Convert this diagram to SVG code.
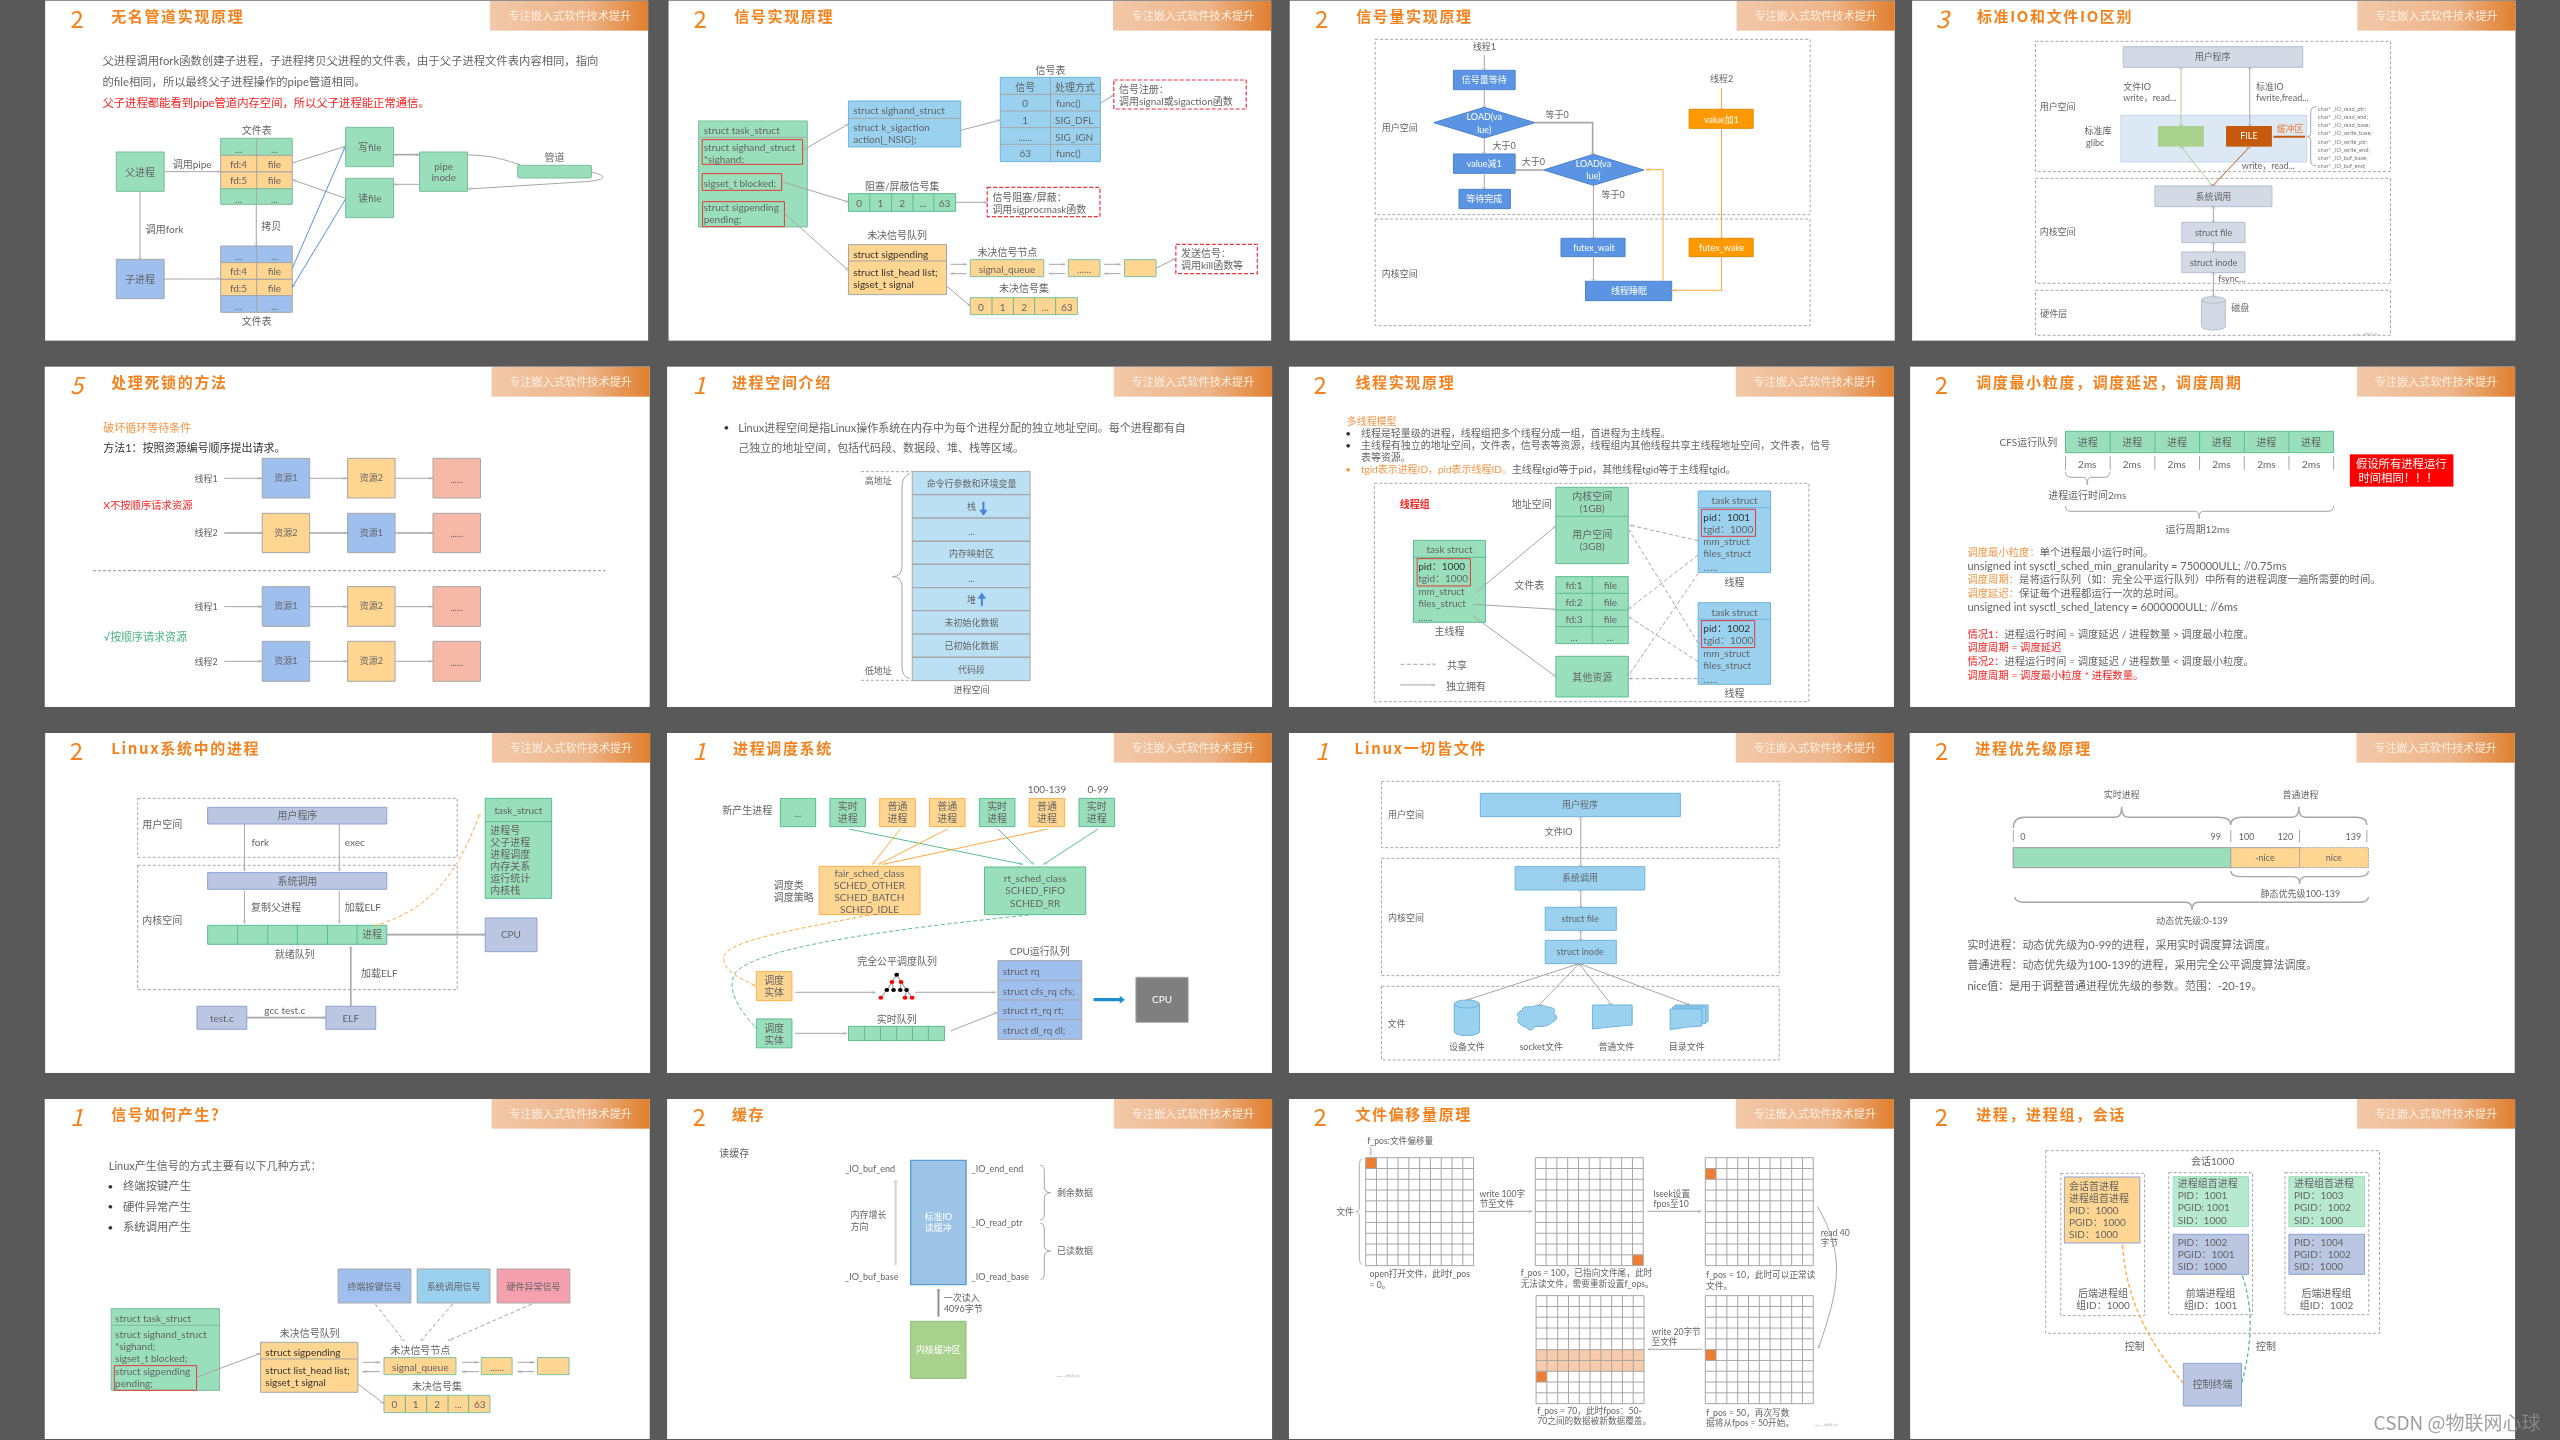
<svg xmlns="http://www.w3.org/2000/svg" width="2560" height="1440" viewBox="0 0 2560 1440">
<style>
text{font:30px Lato,"Noto Sans CJK SC","Noto Sans",sans-serif;fill:#646464;dominant-baseline:central;transform-box:fill-box;transform-origin:0 50%}
.m{text-anchor:middle;transform-origin:50% 50%}
.n text{transform:scale(.843,1)}
.w text{transform:scale(.4215,1)}
rect,path,line,ellipse{vector-effect:non-scaling-stroke}
.pg{fill:#fff}
.hd{fill:url(#hg)}
text.h{font-size:33.5px;fill:#fdeee0;text-anchor:middle;transform-origin:50% 50%;font-family:"Noto Sans CJK SC",sans-serif}
text.t{font-size:45px;font-weight:700;letter-spacing:5px;fill:#F5821F;font-family:"Noto Sans CJK SC",sans-serif}
text.no{font-size:72px;fill:#F5821F;font-family:"Noto Sans CJK SC",sans-serif}
text.i{font-style:italic}
text.f34{font-size:34px}text.f33{font-size:33px}text.f31{font-size:31px}text.f28{font-size:30px}text.f27{font-size:27px}text.f17{font-size:17px;fill:#777}
.sm text{font-size:26px}
text.f8{font-size:8px;fill:#aaa}
text.wh{fill:#fff}text.red{fill:#FF2020}text.org{fill:#F79646}text.grn{fill:#4CB484}text.dk{fill:#333}text.br{fill:#ED7D31}
tspan.org{fill:#F79646}tspan.red{fill:#FF2020}
.fg{fill:#9ADFBC;stroke:#7CBD9C}
.fo{fill:#FFD592;stroke:#A6A6A6}
.fog{fill:#FFD592;stroke:#7CC49C}
.foo{fill:#FFD592;stroke:#FFB04A}
.fgg{fill:#9ADFBC;stroke:#5CBC92}
.fb{fill:#9FBFEE;stroke:#A6A6A6}
.fl{fill:#9AD1EF;stroke:#6FB4DE}
.fs{fill:#BBE0F3;stroke:#A6A6A6}
.fp{fill:#F8B8A8;stroke:#A6A6A6}
.fv{fill:#BAC6E2;stroke:#8FA2D4}
.fy{fill:#D3DAE5;stroke:#B4BFD2}
.fu{fill:#5A94E2;stroke:#4C82CC}
.fa{fill:#FF9900;stroke:#E68A00}
.rb{fill:none;stroke:#E53935}
.rd{fill:none;stroke:#F0303C;stroke-dasharray:4 2;stroke-width:1.2}
.gd{fill:none;stroke:#A6A6A6;stroke-dasharray:3 2}
.s{fill:none;stroke:#A6A6A6}
.grd{fill:none;stroke:#A6A6A6}
.c path{fill:none;stroke:#A6A6A6;marker-end:url(#a)}
.w .c path{marker-end:url(#a2)}
.c path.o{stroke:#FFA940;marker-end:url(#ao)}
.w .c path.o{marker-end:url(#ao2)}
.c path.g{stroke:#5CBC92;marker-end:url(#ag)}
.c path.u{stroke:#5A8FE0;marker-end:url(#au)}
.c path.d{stroke-dasharray:4 2.5}
.c path.bi{marker-start:url(#a2)}
.c path.th{stroke-width:1.6}
</style>
<defs>
<linearGradient id="hg"><stop offset="0" stop-color="#F2C8A8"/><stop offset=".6" stop-color="#EDB58A"/><stop offset="1" stop-color="#E07F2E"/></linearGradient>
<marker id="a" markerUnits="userSpaceOnUse" viewBox="0 0 14 14" markerWidth="14" markerHeight="14" refX="12" refY="7" orient="auto-start-reverse"><path d="M2 2L12 7L2 12" fill="none" stroke="#A6A6A6"/></marker>
<marker id="a2" markerUnits="userSpaceOnUse" viewBox="0 0 14 14" markerWidth="8" markerHeight="8" refX="12" refY="7" orient="auto-start-reverse"><path d="M2 2L12 7L2 12" fill="none" stroke="#A6A6A6"/></marker>
<marker id="ao" markerUnits="userSpaceOnUse" viewBox="0 0 14 14" markerWidth="14" markerHeight="14" refX="12" refY="7" orient="auto"><path d="M2 2L12 7L2 12" fill="none" stroke="#FFA940"/></marker>
<marker id="ao2" markerUnits="userSpaceOnUse" viewBox="0 0 14 14" markerWidth="8" markerHeight="8" refX="12" refY="7" orient="auto"><path d="M2 2L12 7L2 12" fill="none" stroke="#FFA940"/></marker>
<marker id="ag" markerUnits="userSpaceOnUse" viewBox="0 0 14 14" markerWidth="14" markerHeight="14" refX="12" refY="7" orient="auto"><path d="M2 2L12 7L2 12" fill="none" stroke="#5CBC92"/></marker>
<marker id="au" markerUnits="userSpaceOnUse" viewBox="0 0 14 14" markerWidth="14" markerHeight="14" refX="12" refY="7" orient="auto"><path d="M2 2L12 7L2 12" fill="none" stroke="#5A8FE0"/></marker>
<path id="gr" class="grd" d="M0 0H273V324H0ZM27.3 0V324M54.6 0V324M81.9 0V324M109.2 0V324M136.5 0V324M163.8 0V324M191.1 0V324M218.4 0V324M245.7 0V324M0 32.4H273M0 64.8H273M0 97.2H273M0 129.6H273M0 162H273M0 194.4H273M0 226.8H273M0 259.2H273M0 291.6H273"/>
<filter id="soft" filterUnits="userSpaceOnUse" x="0" y="0" width="2560" height="1440"><feGaussianBlur stdDeviation=".4"/></filter>
</defs>
<rect id="bg" width="2560" height="1440" fill="#595959"/>
<g id="all" filter="url(#soft)">

<g id="slide01" class="n" transform="translate(40 0) scale(.3954 .3333)">
<rect class="pg" x="13" y="2" width="1525" height="1020"/>
<rect class="hd" x="1138" y="3" width="400" height="89"/><text class="h" x="1340" y="45">专注嵌入式软件技术提升</text>
<text class="no" x="77" y="52">2</text><text class="t" x="180" y="48">无名管道实现原理</text>
<text class="f34" x="158" y="183">父进程调用fork函数创建子进程，子进程拷贝父进程的文件表，由于父子进程文件表内容相同，指向</text>
<text class="f34" x="158" y="245">的file相同，所以最终父子进程操作的pipe管道相同。</text>
<text class="f34 red" x="158" y="307">父子进程都能看到pipe管道内存空间，所以父子进程能正常通信。</text>
<g id="s1-parent"><rect class="fg" x="193" y="456" width="121" height="118"/><text class="m" x="253" y="515">父进程</text></g>
<g id="s1-child"><rect class="fb" x="193" y="778" width="121" height="118"/><text class="m" x="253" y="837">子进程</text></g>
<g id="s1-table1"><text class="m" x="548" y="390">文件表</text>
<rect class="fg" x="457" y="415" width="181" height="51"/><rect class="fo" x="457" y="466" width="181" height="50"/><rect class="fo" x="457" y="516" width="181" height="50"/><rect class="fg" x="457" y="566" width="181" height="47"/><path class="s" d="M548 415V613"/>
<text class="m" x="502" y="446">...</text><text class="m" x="593" y="446">...</text><text class="m" x="502" y="491">fd:4</text><text class="m" x="593" y="491">file</text><text class="m" x="502" y="541">fd:5</text><text class="m" x="593" y="541">file</text><text class="m" x="502" y="596">...</text><text class="m" x="593" y="596">...</text></g>
<g id="s1-table2"><rect class="fb" x="457" y="738" width="181" height="50"/><rect class="fo" x="457" y="788" width="181" height="50"/><rect class="fo" x="457" y="838" width="181" height="49"/><rect class="fb" x="457" y="887" width="181" height="50"/><path class="s" d="M548 738V937"/>
<text class="m" x="502" y="769">...</text><text class="m" x="593" y="769">...</text><text class="m" x="502" y="813">fd:4</text><text class="m" x="593" y="813">file</text><text class="m" x="502" y="863">fd:5</text><text class="m" x="593" y="863">file</text><text class="m" x="502" y="919">...</text><text class="m" x="593" y="919">...</text><text class="m" x="548" y="963">文件表</text></g>
<g id="s1-write"><rect class="fg" x="773" y="382" width="121" height="118"/><text class="m" x="834" y="440">写file</text></g>
<g id="s1-read"><rect class="fg" x="773" y="535" width="121" height="118"/><text class="m" x="834" y="593">读file</text></g>
<g id="s1-inode"><rect class="fg" x="960" y="456" width="121" height="118"/><text class="m" x="1021" y="497">pipe</text><text class="m" x="1021" y="532">inode</text></g>
<g id="s1-pipe"><rect class="fg" x="1208" y="496" width="187" height="38" rx="5"/><text class="m" x="1301" y="472">管道</text></g>
<g id="s1-conn" class="c">
<path d="M314 515H457"/><path d="M253 574V778"/><path d="M547 613V738"/><path d="M314 837H457"/><path d="M638 489L773 439"/><path d="M773 595L640 540"/>
<path class="u" d="M638 805L771 443"/><path class="u" d="M773 597L638 862"/>
<path class="th" d="M894 464H960"/><path d="M960 553H894"/><path d="M1081 465C1140 465 1180 480 1214 495"/><path d="M1395 516C1440 530 1430 540 1380 545L1083 567"/>
</g>
<text class="m" x="385" y="491">调用pipe</text><text class="m" x="315" y="688">调用fork</text><text class="m" x="585" y="677">拷贝</text>
</g>

<g id="slide02" class="n" transform="translate(665 0) scale(.3954 .3333)">
<rect class="pg" x="9" y="2" width="1524" height="1020"/>
<rect class="hd" x="1133" y="3" width="400" height="89"/><text class="h" x="1335" y="45">专注嵌入式软件技术提升</text>
<text class="no" x="72" y="52">2</text><text class="t" x="175" y="48">信号实现原理</text>
<g id="s2-task"><rect class="fg" x="85" y="363" width="275" height="318"/><path class="s" d="M85 412H360"/>
<rect class="rb" x="94" y="419" width="254" height="74"/><rect class="rb" x="94" y="521" width="201" height="50"/><rect class="rb" x="95" y="605" width="207" height="75"/>
<text class="f28" x="98" y="390">struct task_struct</text><text class="f28" x="98" y="440">struct sighand_struct</text><text class="f28" x="98" y="476">*sighand;</text><text class="f28" x="98" y="548">sigset_t blocked;</text><text class="f28" x="98" y="622">struct sigpending</text><text class="f28" x="98" y="658">pending;</text></g>
<g id="s2-sighand"><rect class="fl" x="464" y="303" width="284" height="138"/><path class="s" d="M464 355H748"/><text class="f28" x="476" y="331">struct sighand_struct</text><text class="f28" x="476" y="382">struct k_sigaction</text><text class="f28" x="476" y="418">action[_NSIG];</text></g>
<g id="s2-sigtable"><text class="m" x="975" y="209">信号表</text><rect class="fl" x="848" y="232" width="253" height="253"/><path class="s" d="M975 232V485M848 283H1101M848 333H1101M848 383H1101M848 433H1101"/>
<text class="m" x="911" y="260">信号</text><text class="m" x="1037" y="260">处理方式</text><text class="m" x="911" y="310">0</text><text class="m" x="1020" y="310">func()</text><text class="m" x="911" y="360">1</text><text class="m" x="1035" y="360">SIG_DFL</text><text class="m" x="911" y="410">......</text><text class="m" x="1035" y="410">SIG_IGN</text><text class="m" x="911" y="460">63</text><text class="m" x="1020" y="460">func()</text></g>
<g id="s2-note1"><rect class="rd" x="1135" y="240" width="335" height="87"/><text x="1148" y="266">信号注册：</text><text x="1148" y="304">调用signal或sigaction函数</text></g>
<g id="s2-blocked"><text class="m" x="600" y="557">阻塞/屏蔽信号集</text><rect class="fgg" x="464" y="581" width="271" height="53"/><path class="s" style="stroke:#5CBC92" d="M518 581V634M573 581V634M627 581V634M680 581V634"/>
<text class="m" x="491" y="608">0</text><text class="m" x="545" y="608">1</text><text class="m" x="600" y="608">2</text><text class="m" x="653" y="608">...</text><text class="m" x="707" y="608">63</text></g>
<g id="s2-note2"><rect class="rd" x="815" y="562" width="285" height="88"/><text x="828" y="590">信号阻塞/屏蔽：</text><text x="828" y="626">调用sigprocmask函数</text></g>
<g id="s2-pending"><text class="m" x="587" y="705">未决信号队列</text><rect class="fo" x="464" y="734" width="248" height="150"/><path class="s" d="M464 783H712"/><text class="f28 dk" x="476" y="761">struct sigpending</text><text class="f28 dk" x="476" y="817">struct list_head list;</text><text class="f28 dk" x="476" y="853">sigset_t signal</text></g>
<g id="s2-queue"><text class="m" x="866" y="755">未决信号节点</text><rect class="fog" x="772" y="779" width="186" height="51"/><text class="m" x="865" y="806">signal_queue</text></g>
<g id="s2-q2"><rect class="fog" x="1020" y="779" width="80" height="51"/><text class="m" x="1060" y="806">......</text></g>
<g id="s2-q3"><rect class="fog" x="1162" y="779" width="80" height="51"/></g>
<g id="s2-note3"><rect class="rd" x="1292" y="733" width="206" height="88"/><text x="1305" y="760">发送信号：</text><text x="1305" y="796">调用kill函数等</text></g>
<g id="s2-set"><text class="m" x="908" y="863">未决信号集</text><rect class="fog" x="772" y="893" width="271" height="51"/><path class="s" style="stroke:#5CBC92" d="M827 893V944M881 893V944M935 893V944M988 893V944"/>
<text class="m" x="799" y="920">0</text><text class="m" x="854" y="920">1</text><text class="m" x="908" y="920">2</text><text class="m" x="962" y="920">...</text><text class="m" x="1016" y="920">63</text></g>
<g id="s2-conn" class="c">
<path d="M350 450L464 372"/><path d="M748 391L848 360"/><path d="M1101 310L1135 285"/><path d="M295 545L464 606"/><path d="M735 607H815"/><path d="M302 640L464 812"/>
<path d="M722 793H763"/><path d="M763 821H722"/><path d="M971 793H1012"/><path d="M1012 821H971"/><path d="M1111 793H1152"/><path d="M1152 821H1111"/><path d="M1242 805L1292 775"/><path d="M712 858L772 918"/>
</g>
</g>

<g id="slide03" class="w" transform="translate(1285 0) scale(.7908 .3333)">
<rect class="pg" x="6" y="2" width="765" height="1020"/>
<rect class="hd" x="571" y="3" width="200" height="89"/><text class="h" x="671" y="45">专注嵌入式软件技术提升</text>
<text class="no" x="38" y="52">2</text><text class="t" x="90" y="48">信号量实现原理</text>
<rect class="gd" x="114" y="118" width="550" height="526"/><rect class="gd" x="114" y="657" width="550" height="320"/>
<text class="m f27" x="145" y="382">用户空间</text><text class="m f27" x="145" y="820">内核空间</text>
<text class="m f27" x="252" y="141">线程1</text><text class="m f27" x="552" y="236">线程2</text>
<g id="s3-wait"><rect class="fu" x="213" y="211" width="78" height="58"/><text class="m f27 wh" x="252" y="239">信号量等待</text></g>
<g id="s3-d1"><path class="fu" d="M188 368L252 322L316 368L252 414Z"/><text class="m f27 wh" x="252" y="350">LOAD(va</text><text class="m f27 wh" x="252" y="388">lue)</text></g>
<g id="s3-dec"><rect class="fu" x="213" y="462" width="78" height="58"/><text class="m f27 wh" x="252" y="490">value减1</text></g>
<g id="s3-done"><rect class="fu" x="220" y="568" width="65" height="58"/><text class="m f27 wh" x="252" y="597">等待完成</text></g>
<g id="s3-d2"><path class="fu" d="M327 510L390 463L454 510L390 556Z"/><text class="m f27 wh" x="390" y="492">LOAD(va</text><text class="m f27 wh" x="390" y="528">lue)</text></g>
<g id="s3-fwait"><rect class="fu" x="349" y="715" width="81" height="55"/><text class="m f27 wh" x="390" y="742">futex_wait</text></g>
<g id="s3-sleep"><rect class="fu" x="380" y="844" width="109" height="58"/><text class="m f27 wh" x="435" y="872">线程睡眠</text></g>
<g id="s3-inc"><rect class="fa" x="511" y="328" width="81" height="57"/><text class="m f27 wh" x="552" y="358">value加1</text></g>
<g id="s3-fwake"><rect class="fa" x="511" y="715" width="81" height="55"/><text class="m f27 wh" x="552" y="742">futex_wake</text></g>
<g id="s3-conn" class="c">
<path d="M252 165V210"/><path d="M252 269V322"/><path d="M252 414V462"/><path d="M252 520V567"/><path class="th" d="M316 368H389V463"/><path class="th" d="M327 510H291"/><path d="M390 556V714"/><path d="M390 770V842"/>
<path class="o" d="M552 265V328"/><path class="o" d="M552 385V714"/><path class="o" d="M552 770V871H489"/><path class="o" d="M478 844V509H456"/>
</g>
<text class="m f27" x="277" y="438">大于0</text><text class="m f27" x="344" y="343">等于0</text><text class="m f27" x="314" y="486">大于0</text><text class="m f27" x="415" y="583">等于0</text>
</g>

<g id="slide04" class="w" transform="translate(1285 0) scale(.7908 .3333)">
<rect class="pg" x="793" y="2" width="763" height="1020"/>
<rect class="hd" x="1356" y="3" width="200" height="89"/><text class="h" x="1456" y="45">专注嵌入式软件技术提升</text>
<text class="no i" x="823" y="52">3</text><text class="t" x="875" y="48">标准IO和文件IO区别</text>
<rect class="gd" x="949" y="124" width="449" height="391"/><rect class="gd" x="949" y="535" width="449" height="315"/><rect class="gd" x="949" y="871" width="449" height="135"/>
<text class="m f27" x="977" y="320">用户空间</text><text class="m f27" x="977" y="695">内核空间</text><text class="m f27" x="972" y="940">硬件层</text>
<rect id="s4-glibc" x="1057" y="346" width="235" height="140" fill="#DCE9F5" stroke="#C4D6EA"/>
<g id="s4-user"><rect class="fy" x="1060" y="140" width="227" height="62"/><text class="m f27" x="1173" y="171">用户程序</text></g>
<text class="f27" x="1060" y="260">文件IO</text><text class="f27" x="1060" y="293">write，read...</text><text class="f27" x="1228" y="260">标准IO</text><text class="f27" x="1228" y="293">fwrite,fread...</text>
<text class="m f27" x="1028" y="393">标准库</text><text class="m f27" x="1024" y="427">glibc</text>
<rect id="s4-green" x="1104" y="378" width="58" height="62" fill="#A9D18E"/>
<g id="s4-file"><rect x="1190" y="378" width="58" height="62" fill="#C55A11"/><text class="m f27 wh" x="1219" y="408">FILE</text></g>
<text class="m f27 br" x="1271" y="385">缓冲区</text><path d="M1250 410H1290" stroke="#C55A11" stroke-width="2"/>
<path class="s" d="M1304 320Q1297 320 1297 340V400Q1297 410 1293 410Q1297 410 1297 420V480Q1297 498 1304 498"/>
<text class="f17" x="1306" y="325">char* _IO_read_ptr;</text><text class="f17" x="1306" y="350">char* _IO_read_end;</text><text class="f17" x="1306" y="374">char* _IO_read_base;</text><text class="f17" x="1306" y="398">char* _IO_write_base;</text><text class="f17" x="1306" y="424">char* _IO_write_ptr;</text><text class="f17" x="1306" y="448">char* _IO_write_end;</text><text class="f17" x="1306" y="472">char* _IO_buf_base;</text><text class="f17" x="1306" y="496">char* _IO_buf_end;</text>
<text class="f27" x="1210" y="496">write，read...</text>
<g id="s4-sys"><rect class="fy" x="1100" y="558" width="148" height="62"/><text class="m f27" x="1174" y="589">系统调用</text></g>
<g id="s4-sfile"><rect class="fy" x="1134" y="667" width="80" height="61"/><text class="m f27" x="1174" y="698">struct file</text></g>
<g id="s4-sinode"><rect class="fy" x="1134" y="756" width="80" height="62"/><text class="m f27" x="1174" y="787">struct inode</text></g>
<text class="f27" x="1180" y="835">fsync...</text>
<g id="s4-disk"><path class="fy" d="M1159 900V980A15 10 0 0 0 1189 980V900A15 10 0 0 0 1159 900A15 10 0 0 0 1189 900"/><text class="m f27" x="1208" y="922">磁盘</text></g>
<g id="s4-conn" class="c">
<path class="bi" style="stroke:#A9D18E" d="M1133 203V378"/><path class="bi" d="M1220 203V378"/><path class="bi" style="stroke:#A9D18E" d="M1133 440L1173 558"/><path class="bi" style="stroke:#C55A11" d="M1220 440L1173 558"/>
<path class="bi" d="M1174 620V667"/><path class="bi" d="M1174 728V756"/><path class="bi" d="M1174 818V890"/>
</g>
<text class="f8" x="1352" y="1002">CSDN @物联网心球</text>
</g>

<g id="slide05" class="w" transform="translate(40 360) scale(.7908 .3333)">
<rect class="pg" x="6" y="20" width="765" height="1021"/>
<rect class="hd" x="571" y="21" width="200" height="89"/><text class="h" x="671" y="63">专注嵌入式软件技术提升</text>
<text class="no i" x="38" y="70">5</text><text class="t" x="90" y="66">处理死锁的方法</text>
<text class="org f33" x="80" y="202">破坏循环等待条件</text><text class="dk f33" x="80" y="263">方法1：按照资源编号顺序提出请求。</text>
<text class="m f27" x="210" y="355">线程1</text><text class="m f27" x="210" y="519">线程2</text><text class="m f27" x="210" y="740">线程1</text><text class="m f27" x="210" y="904">线程2</text>
<g id="s5-r1"><rect class="fb" x="281" y="295" width="60" height="119"/><text class="m f27" x="311" y="353">资源1</text><rect class="fo" x="389" y="295" width="60" height="119"/><text class="m f27" x="419" y="353">资源2</text><rect class="fp" x="497" y="295" width="60" height="119"/><text class="m f27" x="527" y="358">......</text></g>
<g id="s5-r2"><rect class="fo" x="281" y="460" width="60" height="118"/><text class="m f27" x="311" y="517">资源2</text><rect class="fb" x="389" y="460" width="60" height="118"/><text class="m f27" x="419" y="517">资源1</text><rect class="fp" x="497" y="460" width="60" height="118"/><text class="m f27" x="527" y="522">......</text></g>
<g id="s5-r3"><rect class="fb" x="281" y="680" width="60" height="119"/><text class="m f27" x="311" y="738">资源1</text><rect class="fo" x="389" y="680" width="60" height="119"/><text class="m f27" x="419" y="738">资源2</text><rect class="fp" x="497" y="680" width="60" height="119"/><text class="m f27" x="527" y="743">......</text></g>
<g id="s5-r4"><rect class="fb" x="281" y="844" width="60" height="120"/><text class="m f27" x="311" y="902">资源1</text><rect class="fo" x="389" y="844" width="60" height="120"/><text class="m f27" x="419" y="902">资源2</text><rect class="fp" x="497" y="844" width="60" height="120"/><text class="m f27" x="527" y="907">......</text></g>
<text class="red f31" x="80" y="436">X不按顺序请求资源</text><text class="grn f33" x="80" y="830">√按顺序请求资源</text>
<path class="gd" style="stroke-width:1.4" d="M67 632H715"/>
<g id="s5-conn" class="c">
<path d="M233 355H281"/><path d="M341 355H389"/><path d="M449 355H497"/><path class="th" d="M233 519H281"/><path class="th" d="M341 519H389"/><path class="th" d="M449 519H497"/><path d="M233 740H281"/><path d="M341 740H389"/><path d="M449 740H497"/><path d="M233 904H281"/><path d="M341 904H389"/><path d="M449 904H497"/>
</g>
</g>

<g id="slide06" class="w" transform="translate(40 360) scale(.7908 .3333)">
<rect class="pg" x="793" y="20" width="765" height="1021"/>
<rect class="hd" x="1358" y="21" width="200" height="89"/><text class="h" x="1458" y="63">专注嵌入式软件技术提升</text>
<text class="no i" x="825" y="70">1</text><text class="t" x="875" y="66">进程空间介绍</text>
<text class="m dk" x="868" y="202">•</text>
<text class="f33" x="883" y="202">Linux进程空间是指Linux操作系统在内存中为每个进程分配的独立地址空间。每个进程都有自</text>
<text class="f33" x="883" y="263">己独立的地址空间，包括代码段、数据段、堆、栈等区域。</text>
<g id="s6-stack"><rect class="fs" x="1103" y="334" width="149" height="628"/><path class="s" style="stroke-width:1.4" d="M1103 404H1252M1103 474H1252M1103 544H1252M1103 613H1252M1103 683H1252M1103 752H1252M1103 822H1252M1103 892H1252"/>
<text class="m f27" x="1178" y="371">命令行参数和环境变量</text><text class="m f27" x="1178" y="441">栈</text><text class="m f27" x="1178" y="516">...</text><text class="m f27" x="1178" y="580">内存映射区</text><text class="m f27" x="1178" y="655">...</text><text class="m f27" x="1178" y="719">堆</text><text class="m f27" x="1178" y="789">未初始化数据</text><text class="m f27" x="1178" y="858">已初始化数据</text><text class="m f27" x="1178" y="928">代码段</text></g>
<path d="M1193 425V458M1190 452L1193 462L1196 452ZM1191 738V708M1188 713L1191 703L1194 713Z" stroke="#4A86D8" fill="#4A86D8" stroke-width="2"/>
<text class="m f27" x="1178" y="988">进程空间</text><text class="m f27" x="1060" y="362">高地址</text><text class="m f27" x="1060" y="932">低地址</text>
<path class="gd" d="M1038 335H1103M1038 961H1103"/>
<path class="s" d="M1100 340Q1090 350 1090 380V620Q1090 650 1078 650Q1090 650 1090 680V920Q1090 950 1100 956"/>
</g>

<g id="slide07" class="n" transform="translate(1285 360) scale(.3954 .3333)">
<rect class="pg" x="10" y="20" width="1530" height="1021"/>
<rect class="hd" x="1140" y="21" width="400" height="89"/><text class="h" x="1340" y="63">专注嵌入式软件技术提升</text>
<text class="no" x="72" y="70">2</text><text class="t" x="178" y="66">线程实现原理</text>
<text class="org" x="156" y="182">多线程模型</text>
<text class="m dk" x="160" y="218">•</text><text class="m dk" x="160" y="254">•</text><text class="m org" x="160" y="326">•</text>
<text x="192" y="218">线程是轻量级的进程，线程组把多个线程分成一组，首进程为主线程。</text>
<text x="192" y="254">主线程有独立的地址空间，文件表，信号表等资源，线程组内其他线程共享主线程地址空间，文件表，信号</text>
<text x="192" y="290">表等资源。</text>
<text x="192" y="326"><tspan class="org">tgid表示进程ID，pid表示线程ID。</tspan>主线程tgid等于pid，其他线程tgid等于主线程tgid。</text>
<rect class="gd" x="226" y="370" width="1099" height="655"/>
<text class="m red" style="font-weight:700" x="328" y="432">线程组</text><text class="m" x="624" y="432">地址空间</text><text class="m" x="618" y="676">文件表</text>
<g id="s7-addr"><rect class="fgg" x="685" y="382" width="183" height="229"/><path class="s" style="stroke:#5CBC92" d="M685 469H868"/><text class="m" x="777" y="408">内核空间</text><text class="m" x="777" y="445">(1GB)</text><text class="m" x="777" y="523">用户空间</text><text class="m" x="777" y="559">(3GB)</text></g>
<g id="s7-fd"><rect class="fgg" x="685" y="650" width="183" height="201"/><path class="s" style="stroke:#5CBC92" d="M777 650V851M685 700H868M685 750H868M685 800H868"/>
<text class="m" x="731" y="676">fd:1</text><text class="m" x="823" y="676">file</text><text class="m" x="731" y="726">fd:2</text><text class="m" x="823" y="726">file</text><text class="m" x="731" y="776">fd:3</text><text class="m" x="823" y="776">file</text><text class="m" x="731" y="832">...</text><text class="m" x="823" y="832">...</text></g>
<g id="s7-other"><rect class="fgg" x="685" y="889" width="183" height="122"/><text class="m" x="777" y="950">其他资源</text></g>
<g id="s7-main"><rect class="fgg" x="325" y="541" width="182" height="246"/><path class="s" style="stroke:#5CBC92" d="M325 592H507"/><text class="m" x="416" y="568">task struct</text><rect class="rb" x="334" y="596" width="135" height="82"/>
<text class="dk" x="337" y="619">pid：1000</text><text x="337" y="655">tgid：1000</text><text x="337" y="692">mm_struct</text><text x="337" y="728">files_struct</text><text x="337" y="770">......</text><text class="m" x="416" y="814">主线程</text></g>
<g id="s7-t1"><rect class="fl" x="1045" y="393" width="183" height="245"/><path class="s" style="stroke:#6FB4DE" d="M1045 443H1228"/><text class="m" x="1137" y="420">task struct</text><rect class="rb" x="1053" y="448" width="137" height="81"/>
<text class="dk" x="1058" y="470">pid：1001</text><text x="1058" y="506">tgid：1000</text><text x="1058" y="543">mm_struct</text><text x="1058" y="579">files_struct</text><text x="1058" y="622">......</text><text class="m" x="1137" y="665">线程</text></g>
<g id="s7-t2"><rect class="fl" x="1045" y="728" width="183" height="245"/><path class="s" style="stroke:#6FB4DE" d="M1045 778H1228"/><text class="m" x="1137" y="755">task struct</text><rect class="rb" x="1053" y="782" width="135" height="81"/>
<text class="dk" x="1058" y="805">pid：1002</text><text x="1058" y="841">tgid：1000</text><text x="1058" y="878">mm_struct</text><text x="1058" y="914">files_struct</text><text x="1058" y="957">......</text><text class="m" x="1137" y="1000">线程</text></g>
<g id="s7-conn" class="c">
<path d="M482 698L685 498"/><path d="M475 733L685 748"/><path d="M475 767L685 950"/>
<path class="d" d="M1045 542L870 495"/><path class="d" d="M1045 585L868 748"/><path class="d" d="M1045 640L868 948"/><path class="d" d="M1045 850L870 510"/><path class="d" d="M1045 905L868 770"/><path class="d" d="M1060 956H870"/>
<path class="d" d="M292 913H380"/><path d="M292 975H380"/>
</g>
<text class="m" x="435" y="915">共享</text><text class="m" x="458" y="977">独立拥有</text>
</g>

<g id="slide08" class="n" transform="translate(1905 360) scale(.3954 .3333)">
<rect class="pg" x="13" y="20" width="1530" height="1021"/>
<rect class="hd" x="1143" y="21" width="400" height="89"/><text class="h" x="1343" y="63">专注嵌入式软件技术提升</text>
<text class="no" x="75" y="70">2</text><text class="t" x="180" y="66">调度最小粒度，调度延迟，调度周期</text>
<text class="m" x="312" y="247">CFS运行队列</text>
<g id="s8-queue"><rect class="fgg" x="406" y="214" width="678" height="64"/><path class="s" style="stroke:#5CBC92" d="M519 214V278M632 214V278M745 214V278M858 214V278M971 214V278"/>
<text class="m" x="462" y="247">进程</text><text class="m" x="575" y="247">进程</text><text class="m" x="688" y="247">进程</text><text class="m" x="801" y="247">进程</text><text class="m" x="914" y="247">进程</text><text class="m" x="1027" y="247">进程</text></g>
<path class="s" d="M406 288V330M519 288V330M632 288V330M745 288V330M858 288V330M971 288V330M1084 288V330"/>
<text class="m" x="461" y="311">2ms</text><text class="m" x="574" y="311">2ms</text><text class="m" x="687" y="311">2ms</text><text class="m" x="800" y="311">2ms</text><text class="m" x="914" y="311">2ms</text><text class="m" x="1027" y="311">2ms</text>
<g id="s8-note"><rect x="1125" y="283" width="262" height="97" fill="#FF0000"/><text class="m wh f34" x="1255" y="312">假设所有进程运行</text><text class="m wh f34" x="1247" y="353">时间相同！！！</text></g>
<path class="s" d="M406 336Q406 352 420 352H452Q461 352 461 375Q461 352 470 352H505Q517 352 517 336"/><text class="m" x="461" y="405">进程运行时间2ms</text>
<path class="s" d="M406 438Q406 454 420 454H735Q744 454 744 476Q744 454 753 454H1070Q1084 454 1084 438"/><text class="m" x="740" y="507">运行周期12ms</text>
<text class="f31" x="158" y="576"><tspan class="org">调度最小粒度：</tspan>单个进程最小运行时间。</text>
<text class="f33" x="158" y="617">unsigned int sysctl_sched_min_granularity = 750000ULL; //0.75ms</text>
<text class="f31" x="158" y="658"><tspan class="org">调度周期：</tspan>是将运行队列（如：完全公平运行队列）中所有的进程调度一遍所需要的时间。</text>
<text class="f31" x="158" y="699"><tspan class="org">调度延迟：</tspan>保证每个进程都运行一次的总时间。</text>
<text class="f33" x="158" y="740">unsigned int sysctl_sched_latency = 6000000ULL; //6ms</text>
<text class="f31" x="158" y="821"><tspan class="red">情况1：</tspan>进程运行时间 = 调度延迟 / 进程数量 &gt; 调度最小粒度。</text>
<text class="f31 red" x="158" y="862">调度周期 = 调度延迟</text>
<text class="f31" x="158" y="903"><tspan class="red">情况2：</tspan>进程运行时间 = 调度延迟 / 进程数量 &lt; 调度最小粒度。</text>
<text class="f31 red" x="158" y="944">调度周期 = 调度最小粒度 * 进程数量。</text>
</g>

<g id="slide09" class="n" transform="translate(40 725) scale(.3954 .3333)">
<rect class="pg" x="13" y="24" width="1530" height="1020"/>
<rect class="hd" x="1143" y="24" width="400" height="89"/><text class="h" x="1343" y="66">专注嵌入式软件技术提升</text>
<text class="no" x="75" y="73">2</text><text class="t" x="180" y="69">Linux系统中的进程</text>
<rect class="gd" x="247" y="220" width="808" height="177"/><rect class="gd" x="247" y="421" width="808" height="373"/>
<text class="m" x="309" y="298">用户空间</text><text class="m" x="309" y="586">内核空间</text>
<g id="s9-user"><rect class="fv" x="424" y="247" width="453" height="50"/><text class="m" x="651" y="271">用户程序</text></g>
<g id="s9-sys"><rect class="fv" x="424" y="443" width="453" height="50"/><text class="m" x="651" y="467">系统调用</text></g>
<g id="s9-queue"><rect class="fgg" x="424" y="601" width="453" height="57"/><path class="s" style="stroke:#5CBC92" d="M500 601V658M576 601V658M651 601V658M727 601V658M802 601V658"/><text class="m" x="840" y="628">进程</text><text class="m" x="644" y="687">就绪队列</text></g>
<g id="s9-cpu"><rect class="fv" x="1126" y="579" width="131" height="101"/><text class="m" x="1191" y="628">CPU</text></g>
<g id="s9-task"><rect class="fgg" x="1126" y="220" width="168" height="300"/><path class="s" style="stroke:#5CBC92" d="M1126 290H1294"/><text class="m" x="1210" y="256">task_struct</text>
<text x="1139" y="314">进程号</text><text x="1139" y="350">父子进程</text><text x="1139" y="387">进程调度</text><text x="1139" y="423">内存关系</text><text x="1139" y="460">运行统计</text><text x="1139" y="496">内核栈</text></g>
<g id="s9-test"><rect class="fv" x="397" y="844" width="126" height="69"/><text class="m" x="460" y="878">test.c</text></g>
<g id="s9-elf"><rect class="fv" x="723" y="844" width="126" height="69"/><text class="m" x="786" y="878">ELF</text></g>
<g id="s9-conn" class="c">
<path d="M517 297V438"/><path d="M757 297V438"/><path d="M517 497V595"/><path d="M757 497V595"/><path class="th" d="M877 629H1126"/><path class="o d" d="M845 603C1000 550 1060 430 1113 265"/><path class="th" d="M523 878H723"/><path class="th" d="M786 844V665"/>
</g>
<text class="m" x="557" y="352">fork</text><text class="m" x="796" y="352">exec</text><text class="m" x="597" y="545">复制父进程</text><text class="m" x="816" y="545">加载ELF</text><text class="m" x="858" y="745">加载ELF</text><text class="m" x="619" y="856">gcc test.c</text>
</g>

<g id="slide10" class="n" transform="translate(665 725) scale(.3954 .3333)">
<rect class="pg" x="5" y="24" width="1530" height="1020"/>
<rect class="hd" x="1135" y="24" width="400" height="89"/><text class="h" x="1335" y="66">专注嵌入式软件技术提升</text>
<text class="no i" x="70" y="73">1</text><text class="t" x="172" y="69">进程调度系统</text>
<text class="m" x="208" y="256">新产生进程</text><text class="m" x="966" y="193">100-139</text><text class="m" x="1095" y="193">0-99</text>
<g id="s10-p0"><rect class="fgg" x="292" y="220" width="89" height="85"/><text class="m" x="336" y="265">...</text></g>
<g id="s10-p1"><rect class="fgg" x="417" y="220" width="90" height="85"/><text class="m" x="462" y="243">实时</text><text class="m" x="462" y="279">进程</text></g>
<g id="s10-p2"><rect class="foo" x="543" y="220" width="90" height="85"/><text class="m" x="588" y="243">普通</text><text class="m" x="588" y="279">进程</text></g>
<g id="s10-p3"><rect class="foo" x="669" y="220" width="90" height="85"/><text class="m" x="714" y="243">普通</text><text class="m" x="714" y="279">进程</text></g>
<g id="s10-p4"><rect class="fgg" x="795" y="220" width="90" height="85"/><text class="m" x="840" y="243">实时</text><text class="m" x="840" y="279">进程</text></g>
<g id="s10-p5"><rect class="foo" x="921" y="220" width="90" height="85"/><text class="m" x="966" y="243">普通</text><text class="m" x="966" y="279">进程</text></g>
<g id="s10-p6"><rect class="fgg" x="1047" y="220" width="90" height="85"/><text class="m" x="1092" y="243">实时</text><text class="m" x="1092" y="279">进程</text></g>
<g id="s10-fair"><rect class="foo" x="390" y="424" width="255" height="145"/><text class="m" x="517" y="443">fair_sched_class</text><text class="m" x="517" y="479">SCHED_OTHER</text><text class="m" x="517" y="515">SCHED_BATCH</text><text class="m" x="517" y="551">SCHED_IDLE</text></g>
<g id="s10-rt"><rect class="fgg" x="808" y="426" width="256" height="143"/><text class="m" x="936" y="460">rt_sched_class</text><text class="m" x="936" y="496">SCHED_FIFO</text><text class="m" x="936" y="533">SCHED_RR</text></g>
<text x="275" y="481">调度类</text><text x="275" y="516">调度策略</text>
<g id="s10-e1"><rect class="foo" x="231" y="740" width="90" height="87"/><text class="m" x="276" y="765">调度</text><text class="m" x="276" y="801">实体</text></g>
<g id="s10-e2"><rect class="fgg" x="231" y="882" width="90" height="87"/><text class="m" x="276" y="908">调度</text><text class="m" x="276" y="944">实体</text></g>
<text class="m" x="587" y="709">完全公平调度队列</text>
<g id="s10-tree"><path d="M586 749L574 771L561 795L546 818M574 771L578 795M586 749L597 771L595 795M597 771L611 795L607 818M611 795L625 818" fill="none" stroke="#888"/>
<g fill="#000"><ellipse cx="586" cy="749" rx="6" ry="6"/><ellipse cx="561" cy="795" rx="6" ry="6"/><ellipse cx="578" cy="795" rx="6" ry="6"/><ellipse cx="595" cy="795" rx="6" ry="6"/><ellipse cx="611" cy="795" rx="6" ry="6"/></g>
<g fill="#F00"><ellipse cx="574" cy="771" rx="6" ry="6"/><ellipse cx="597" cy="771" rx="6" ry="6"/><ellipse cx="546" cy="818" rx="6" ry="6"/><ellipse cx="607" cy="818" rx="6" ry="6"/><ellipse cx="625" cy="818" rx="6" ry="6"/></g></g>
<g id="s10-rq"><text class="m" x="586" y="881">实时队列</text><rect class="fgg" x="464" y="904" width="243" height="43"/><path class="s" style="stroke:#5CBC92" d="M505 904V947M545 904V947M586 904V947M626 904V947M666 904V947"/></g>
<g id="s10-cpuq"><text class="m" x="948" y="679">CPU运行队列</text><rect class="fb" x="842" y="707" width="212" height="236"/><path class="s" d="M842 766H1054M842 825H1054M842 884H1054"/>
<text class="f28" x="854" y="738">struct rq</text><text class="f28" x="854" y="797">struct cfs_rq cfs;</text><text class="f28" x="854" y="856">struct rt_rq rt;</text><text class="f28" x="854" y="915">struct dl_rq dl;</text></g>
<g id="s10-cpu"><rect x="1191" y="757" width="132" height="135" fill="#7F7F7F" stroke="#A6A6A6"/><text class="m wh" x="1257" y="823">CPU</text></g>
<path d="M1084 819H1150V812L1163 824L1150 836V829H1084Z" fill="#1E8FD2"/>
<g id="s10-conn" class="c">
<path class="g" d="M465 312L905 418"/><path class="o" d="M595 312L525 418"/><path class="o" d="M715 312L540 418"/><path class="o" d="M968 312L552 418"/><path class="g" d="M842 312L932 418"/><path class="g" d="M1095 312L958 418"/>
<path class="o d" d="M517 570C300 620 150 650 148 700C150 740 190 760 230 783"/><path class="g d" d="M920 570C600 610 250 660 180 740C150 790 190 860 232 910"/>
<path d="M329 802H532"/><path d="M632 802H836"/><path d="M329 925H460"/><path d="M722 918L840 863"/>
</g>
</g>

<g id="slide11" class="w" transform="translate(1285 725) scale(.7908 .3333)">
<rect class="pg" x="5" y="24" width="765" height="1020"/>
<rect class="hd" x="570" y="24" width="200" height="89"/><text class="h" x="670" y="66">专注嵌入式软件技术提升</text>
<text class="no i" x="38" y="73">1</text><text class="t" x="88" y="69">Linux一切皆文件</text>
<rect class="gd" x="122" y="169" width="503" height="199"/><rect class="gd" x="122" y="400" width="503" height="352"/><rect class="gd" x="122" y="784" width="503" height="221"/>
<text class="m f27" x="153" y="269">用户空间</text><text class="m f27" x="153" y="577">内核空间</text><text class="m f27" x="141" y="897">文件</text>
<g id="s11-user"><rect class="fl" x="247" y="205" width="253" height="70"/><text class="m f27" x="373" y="238">用户程序</text></g>
<text class="m f27" x="346" y="320">文件IO</text>
<g id="s11-sys"><rect class="fl" x="291" y="425" width="164" height="70"/><text class="m f27" x="373" y="459">系统调用</text></g>
<g id="s11-file"><rect class="fl" x="329" y="547" width="90" height="69"/><text class="m f27" x="373" y="581">struct file</text></g>
<g id="s11-inode"><rect class="fl" x="329" y="646" width="90" height="70"/><text class="m f27" x="373" y="680">struct inode</text></g>
<g id="s11-dev"><path class="fl" d="M214 837V920A16 12 0 0 0 246 920V837A16 12 0 0 0 214 837A16 12 0 0 0 246 837"/><text class="m f27" x="230" y="965">设备文件</text></g>
<g id="s11-sock"><path class="fl" d="M300 855Q300 842 312 846Q322 836 332 846Q344 848 340 865Q348 880 338 892Q332 908 316 904Q310 925 306 908Q290 895 296 878Q290 865 300 855Z"/><text class="m f27" x="324" y="965">socket文件</text></g>
<g id="s11-reg"><path class="fl" d="M389 840H439V900Q414 905 389 912Z"/><text class="m f27" x="419" y="965">普通文件</text></g>
<g id="s11-dir"><path class="fl" d="M493 840H535V890H530V846H493Z"/><path class="fl" d="M490 846H532V896H527V852H490Z"/><path class="fl" d="M487 852H527V903Q507 905 487 914Z"/><text class="m f27" x="508" y="965">目录文件</text></g>
<g id="s11-conn" class="c">
<path class="bi" d="M374 275V425"/><path class="bi" d="M374 495V547"/><path class="bi" d="M374 616V646"/>
<path class="bi" d="M372 716L230 825"/><path class="bi" d="M372 716L320 843"/><path class="bi" d="M372 716L413 840"/><path class="bi" d="M372 716L512 840"/>
</g>
</g>

<g id="slide12" class="w" transform="translate(1285 725) scale(.7908 .3333)">
<rect class="pg" x="790" y="24" width="765" height="1020"/>
<rect class="hd" x="1355" y="24" width="200" height="89"/><text class="h" x="1455" y="66">专注嵌入式软件技术提升</text>
<text class="no" x="822" y="73">2</text><text class="t" x="873" y="69">进程优先级原理</text>
<text class="m f27" x="1058" y="208">实时进程</text><text class="m f27" x="1284" y="208">普通进程</text>
<path class="s" style="stroke-width:1.4" d="M921 310Q921 277 935 277H1050Q1058 277 1058 245Q1058 277 1066 277H1180Q1196 277 1196 300M1196 300Q1196 277 1210 277H1274Q1282 277 1282 245Q1282 277 1290 277H1354Q1368 277 1368 300"/>
<path class="s" d="M921 315V352M1196 315V352M1283 315V352M1368 315V352"/>
<text class="m f27" x="933" y="334">0</text><text class="m f27" x="1177" y="334">99</text><text class="m f27" x="1216" y="334">100</text><text class="m f27" x="1265" y="334">120</text><text class="m f27" x="1351" y="334">139</text>
<g id="s12-bar"><rect class="fg" style="stroke:#A6A6A6;stroke-width:1.4" x="921" y="368" width="275" height="60"/><rect class="fo" x="1196" y="368" width="87" height="60"/><rect class="fo" style="stroke-dasharray:2 1" x="1283" y="368" width="87" height="60"/><text class="m f27" x="1239" y="399">-nice</text><text class="m f27" x="1326" y="399">nice</text></g>
<path class="s" style="stroke-width:1.4" d="M1196 438Q1196 455 1210 455H1275Q1283 455 1283 476Q1283 455 1291 455H1356Q1370 455 1370 438M923 516Q923 532 937 532H1139Q1147 532 1147 555Q1147 532 1155 532H1356Q1370 532 1370 516"/>
<text class="m f27" x="1284" y="505">静态优先级100-139</text><text class="m f27" x="1147" y="586">动态优先级:0-139</text>
<text class="f33" x="863" y="658">实时进程：动态优先级为0-99的进程，采用实时调度算法调度。</text>
<text class="f33" x="863" y="718">普通进程：动态优先级为100-139的进程，采用完全公平调度算法调度。</text>
<text class="f33" x="863" y="781">nice值：是用于调整普通进程优先级的参数。范围：-20-19。</text>
</g>

<g id="slide13" class="w" transform="translate(40 1090) scale(.7908 .3333)">
<rect class="pg" x="6" y="27" width="765" height="1020"/>
<rect class="hd" x="571" y="27" width="200" height="89"/><text class="h" x="671" y="69">专注嵌入式软件技术提升</text>
<text class="no i" x="38" y="76">1</text><text class="t" x="90" y="72">信号如何产生？</text>
<text class="f33" x="87" y="228">Linux产生信号的方式主要有以下几种方式：</text>
<text class="m dk" x="89" y="288">•</text><text class="m dk" x="89" y="349">•</text><text class="m dk" x="89" y="410">•</text>
<text class="f34" x="105" y="288">终端按键产生</text><text class="f34" x="105" y="349">硬件异常产生</text><text class="f34" x="105" y="410">系统调用产生</text>
<g id="s13-a"><rect class="fb" x="377" y="537" width="92" height="102"/><text class="m f27" x="423" y="590">终端按键信号</text></g>
<g id="s13-b"><rect class="fl" style="stroke:#A6A6A6" x="477" y="537" width="92" height="102"/><text class="m f27" x="523" y="590">系统调用信号</text></g>
<g id="s13-c"><rect x="578" y="537" width="92" height="102" fill="#F4A0AE" stroke="#A6A6A6"/><text class="m f27" x="624" y="590">硬件异常信号</text></g>
<g id="s13-task"><rect class="fg" x="90" y="656" width="137" height="245"/><path class="s" style="stroke:#7CBD9C" d="M90 706H227"/><rect class="rb" x="94" y="827" width="104" height="74"/>
<text class="f28" x="95" y="683">struct task_struct</text><text class="f28" x="95" y="733">struct sighand_struct</text><text class="f28" x="95" y="769">*sighand;</text><text class="f28" x="95" y="805">sigset_t blocked;</text><text class="f28" x="95" y="842">struct sigpending</text><text class="f28" x="95" y="878">pending;</text></g>
<g id="s13-pending"><text class="m" x="341" y="730">未决信号队列</text><rect class="fo" x="279" y="757" width="123" height="150"/><path class="s" d="M279 807H402"/><text class="f28 dk" x="285" y="785">struct sigpending</text><text class="f28 dk" x="285" y="841">struct list_head list;</text><text class="f28 dk" x="285" y="877">sigset_t signal</text></g>
<text class="m" x="481" y="779">未决信号节点</text>
<g id="s13-q1"><rect class="fog" x="435" y="803" width="91" height="51"/><text class="m" x="481" y="830">signal_queue</text></g>
<g id="s13-q2"><rect class="fog" x="558" y="803" width="39" height="51"/><text class="m" x="578" y="832">......</text></g>
<g id="s13-q3"><rect class="fog" x="629" y="803" width="40" height="51"/></g>
<g id="s13-set"><text class="m" x="502" y="887">未决信号集</text><rect class="fog" x="435" y="916" width="134" height="52"/><path class="s" style="stroke:#5CBC92" d="M462 916V968M489 916V968M516 916V968M542 916V968"/>
<text class="m" x="448" y="943">0</text><text class="m" x="475" y="943">1</text><text class="m" x="502" y="943">2</text><text class="m" x="529" y="943">...</text><text class="m" x="556" y="943">63</text></g>
<g id="s13-conn" class="c">
<path class="d" d="M424 642L460 752"/><path class="d" d="M522 642L482 752"/><path class="d" d="M622 642L516 752"/><path d="M198 862L279 790"/>
<path d="M408 817H430"/><path d="M430 845H408"/><path d="M534 817H555"/><path d="M555 845H534"/><path d="M604 817H625"/><path d="M625 845H604"/><path d="M402 882L435 941"/>
</g>
</g>

<g id="slide14" class="w" transform="translate(40 1090) scale(.7908 .3333)">
<rect class="pg" x="793" y="27" width="765" height="1020"/>
<rect class="hd" x="1358" y="27" width="200" height="89"/><text class="h" x="1458" y="69">专注嵌入式软件技术提升</text>
<text class="no" x="825" y="76">2</text><text class="t" x="875" y="72">缓存</text>
<text class="m" x="878" y="189">读缓存</text>
<g id="s14-buf"><rect x="1101" y="211" width="70" height="373" fill="#9DC3E6" stroke="#5B9BD5" stroke-width="1.4"/><text class="m f27 wh" x="1136" y="380">标准IO</text><text class="m f27 wh" x="1136" y="413">读缓冲</text></g>
<text class="f27" x="1018" y="235">_IO_buf_end</text><text class="f27" x="1178" y="235">_IO_end_end</text><text class="f27" x="1178" y="399">_IO_read_ptr</text><text class="f27" x="1018" y="561">_IO_buf_base</text><text class="f27" x="1178" y="561">_IO_read_base</text>
<text class="f27" x="1025" y="375">内存增长</text><text class="f27" x="1025" y="409">方向</text>
<path class="s" d="M1265 226Q1270 226 1270 245V290Q1270 308 1278 308Q1270 308 1270 326V372Q1270 390 1265 390M1265 400Q1270 400 1270 420V465Q1270 483 1278 483Q1270 483 1270 500V550Q1270 568 1265 568"/>
<text class="f27" x="1286" y="308">剩余数据</text><text class="f27" x="1286" y="483">已读数据</text>
<text class="f27" x="1143" y="622">一次读入</text><text class="f27" x="1143" y="655">4096字节</text>
<g id="s14-kbuf"><rect x="1101" y="694" width="70" height="171" fill="#A9D18E" stroke="#8FBC72"/><text class="m f27 wh" x="1136" y="779">内核缓冲区</text></g>
<g id="s14-conn" class="c"><path d="M1082 525V272"/><path style="stroke:#777;stroke-width:1.6" d="M1136 680V597"/></g>
<text class="f8" x="1285" y="858">CSDN @物联网心球</text>
</g>

<g id="slide15" class="n" transform="translate(1285 1090) scale(.3954 .3333)">
<rect class="pg" x="10" y="27" width="1530" height="1020"/>
<rect class="hd" x="1140" y="27" width="400" height="89"/><text class="h" x="1340" y="69">专注嵌入式软件技术提升</text>
<text class="no" x="72" y="76">2</text><text class="t" x="178" y="72">文件偏移量原理</text>
<g fill="#ED7D31"><rect x="204" y="203" width="27" height="32"/><rect x="879" y="494" width="27" height="32"/><rect x="1063" y="235" width="27" height="33"/><rect x="1063" y="779" width="27" height="32"/><rect x="635" y="844" width="27" height="32"/></g>
<rect x="635" y="779" width="273" height="65" fill="#F8CBAD"/>
<use id="s15-g1" href="#gr" x="204" y="203"/><use id="s15-g2" href="#gr" x="633" y="203"/><use id="s15-g3" href="#gr" x="1063" y="203"/><use id="s15-g4" href="#gr" x="1063" y="617"/><use id="s15-g5" href="#gr" x="635" y="617"/>
<g class="sm">
<text x="208" y="152">f_pos:文件偏移量</text><text class="m" x="152" y="365">文件</text>
<text x="214" y="552">open打开文件，此时f_pos</text><text x="214" y="583">= 0。</text>
<text x="492" y="311">write 100字</text><text x="492" y="341">节至文件</text>
<text x="596" y="549">f_pos = 100，已指向文件尾，此时</text><text x="596" y="580">无法读文件，需要重新设置f_ops。</text>
<text x="932" y="311">lseek设置</text><text x="932" y="342">fpos至10</text>
<text x="1065" y="555">f_pos = 10，此时可以正常读</text><text x="1065" y="586">文件。</text>
<text x="1355" y="428">read 40</text><text x="1355" y="459">字节</text>
<text x="927" y="725">write 20字节</text><text x="927" y="756">至文件</text>
<text x="638" y="962">f_pos = 70，此时fpos：50-</text><text x="638" y="993">70之间的数据被新数据覆盖。</text>
<text x="1065" y="967">f_pos = 50，再次写数</text><text x="1065" y="998">据将从fpos = 50开始。</text>
</g>
<path class="s" d="M195 207Q188 207 188 225V350Q188 365 180 365Q188 365 188 380V505Q188 522 195 522"/>
<text class="f8" x="1338" y="1005">CSDN @物联网心球</text>
<g id="s15-conn" class="c"><path d="M217 170V195"/><path d="M488 364H625"/><path d="M917 364H1053"/><path d="M1347 350C1420 500 1400 600 1349 775"/><path d="M1055 778H918"/></g>
</g>

<g id="slide16" class="n" transform="translate(1905 1090) scale(.3954 .3333)">
<rect class="pg" x="13" y="27" width="1530" height="1020"/>
<rect class="hd" x="1143" y="27" width="400" height="89"/><text class="h" x="1343" y="69">专注嵌入式软件技术提升</text>
<text class="no" x="75" y="76">2</text><text class="t" x="180" y="72">进程，进程组，会话</text>
<rect class="gd" x="356" y="182" width="844" height="548"/><text class="m" x="778" y="213">会话1000</text>
<rect class="gd" x="394" y="250" width="212" height="427"/><rect class="gd" x="667" y="248" width="212" height="426"/><rect class="gd" x="961" y="248" width="212" height="426"/>
<g id="s16-a"><rect class="fo" style="stroke:#8FA2D4" x="403" y="261" width="191" height="198"/><text x="415" y="287">会话首进程</text><text x="415" y="323">进程组首进程</text><text x="415" y="359">PID：1000</text><text x="415" y="395">PGID：1000</text><text x="415" y="432">SID：1000</text></g>
<text class="m" x="501" y="609">后端进程组</text><text class="m" x="501" y="646">组ID：1000</text>
<g id="s16-b"><rect x="678" y="260" width="191" height="150" fill="#B7E9D0" stroke="#9ADFBC"/><text x="690" y="280">进程组首进程</text><text x="690" y="316">PID：1001</text><text x="690" y="352">PGID: 1001</text><text x="690" y="389">SID：1000</text></g>
<g id="s16-c"><rect class="fv" x="678" y="433" width="191" height="120"/><text x="690" y="456">PID：1002</text><text x="690" y="492">PGID：1001</text><text x="690" y="528">SID：1000</text></g>
<text class="m" x="773" y="609">前端进程组</text><text class="m" x="773" y="646">组ID：1001</text>
<g id="s16-d"><rect x="971" y="260" width="191" height="150" fill="#B7E9D0" stroke="#9ADFBC"/><text x="984" y="280">进程组首进程</text><text x="984" y="316">PID：1003</text><text x="984" y="352">PGID：1002</text><text x="984" y="389">SID：1000</text></g>
<g id="s16-e"><rect class="fv" x="971" y="433" width="191" height="120"/><text x="984" y="456">PID：1004</text><text x="984" y="492">PGID：1002</text><text x="984" y="528">SID：1000</text></g>
<text class="m" x="1066" y="609">后端进程组</text><text class="m" x="1066" y="646">组ID：1002</text>
<g id="s16-term"><rect class="fv" x="704" y="820" width="147" height="128"/><text class="m" x="778" y="882">控制终端</text></g>
<text class="m" x="581" y="767">控制</text><text class="m" x="913" y="767">控制</text>
<g id="s16-conn" class="c"><path class="o d" style="stroke-width:1.3" d="M704 880C620 760 560 640 550 462"/><path class="g d" style="stroke-width:1.3" d="M852 878C880 750 880 650 852 552"/></g>
<text x="1185" y="995" style="font-size:57px;fill:#8f8f8f;opacity:.85;font-family:'Noto Sans CJK SC',sans-serif">CSDN @物联网心球</text>
</g>
</g>
</svg>
